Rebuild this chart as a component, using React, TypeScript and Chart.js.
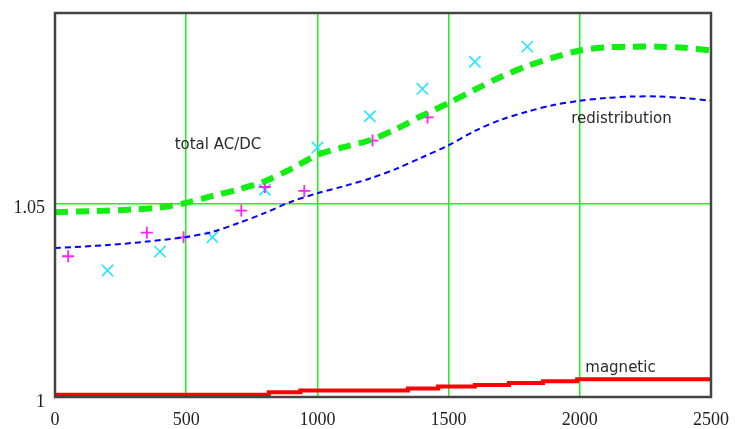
import React, { useEffect, useRef } from "react";
import { Chart, registerables } from "chart.js";

Chart.register(...registerables);

// ---- data ----
const totalX = [0, 150, 300, 400, 500, 600, 700, 800, 900, 1000, 1100, 1200, 1300, 1400, 1500, 1600, 1700, 1800, 1900, 2000, 2100, 2200, 2300, 2400, 2500];
const totalY = [1.0478, 1.0481, 1.0485, 1.049, 1.0502, 1.052, 1.0537, 1.0558, 1.059, 1.0626, 1.0646, 1.0664, 1.0693, 1.0728, 1.076, 1.0795, 1.0828, 1.0856, 1.0878, 1.0896, 1.0904, 1.0906, 1.0906, 1.0903, 1.0896];

const redistX = [0, 200, 350, 500, 600, 700, 800, 900, 1000, 1100, 1200, 1300, 1400, 1500, 1600, 1700, 1800, 1900, 2000, 2100, 2200, 2300, 2400, 2500];
const redistY = [1.0385, 1.0393, 1.0402, 1.0414, 1.0427, 1.045, 1.0476, 1.0505, 1.0527, 1.0545, 1.0565, 1.059, 1.062, 1.0651, 1.0688, 1.0717, 1.0738, 1.0755, 1.0766, 1.0773, 1.0777, 1.0777, 1.0773, 1.0766];

const magX = [0, 815, 935, 1345, 1460, 1600, 1730, 1860, 1990, 2500];
const magY = [1.0006, 1.0012, 1.0017, 1.0022, 1.0027, 1.0031, 1.0036, 1.0041, 1.0046, 1.0046];

const plusX = [50, 350, 490, 710, 800, 950, 1210, 1420];
const plusY = [1.0364, 1.0425, 1.0413, 1.0482, 1.0543, 1.0533, 1.0663, 1.0723];

const crossX = [200, 400, 600, 800, 1000, 1200, 1400, 1600, 1800];
const crossY = [1.0327, 1.0376, 1.0413, 1.0536, 1.0645, 1.0726, 1.0797, 1.0867, 1.0906];

const xTicks = [0, 500, 1000, 1500, 2000, 2500];
const yTicks = [1, 1.05];
const yTickLabels = ["1", "1.05"];

const labelTexts = ["total AC/DC", "redistribution", "magnetic"];
const labelX = [621, 2159, 2155];
const labelY = [1.0651, 1.0719, 1.0076];

const pts = (xs: number[], ys: number[]) => xs.map((x, i) => ({ x, y: ys[i] }));

export default function App() {
  const ref = useRef<HTMLCanvasElement>(null);

  useEffect(() => {
    const canvas = ref.current;
    if (!canvas) return;
    document.body.style.margin = "0";

    const framePlugin = {
      id: "frame",
      afterDatasetsDraw(chart: any) {
        const { ctx, scales } = chart;
        ctx.save();
        ctx.font = '15px "DejaVu Sans"';
        ctx.fillStyle = "#2a2a2a";
        ctx.textAlign = "center";
        ctx.textBaseline = "middle";
        labelTexts.forEach((t, i) => {
          ctx.fillText(t, scales.x.getPixelForValue(labelX[i]), scales.y.getPixelForValue(labelY[i]));
        });
        ctx.restore();
      },
      afterDraw(chart: any) {
        const { ctx, chartArea } = chart;
        ctx.save();
        ctx.strokeStyle = "#444";
        ctx.lineWidth = 2.5;
        ctx.strokeRect(chartArea.left, chartArea.top, chartArea.right - chartArea.left, chartArea.bottom - chartArea.top);
        ctx.restore();
      },
    };

    const chart = new Chart(canvas, {
      type: "line",
      data: {
        datasets: [
          {
            label: "magnetic",
            data: pts(magX, magY),
            borderColor: "#ff0000",
            borderWidth: 4,
            pointRadius: 0,
            stepped: true,
            fill: false,
          },
          {
            label: "redistribution",
            data: pts(redistX, redistY),
            borderColor: "#0000ff",
            borderWidth: 2,
            borderDash: [6, 4],
            pointRadius: 0,
            tension: 0.3,
            fill: false,
          },
          {
            label: "total AC/DC",
            data: pts(totalX, totalY),
            borderColor: "#11ee11",
            borderWidth: 6,
            borderDash: [13, 8],
            pointRadius: 0,
            tension: 0.3,
            fill: false,
          },
          {
            label: "plus",
            data: pts(plusX, plusY),
            showLine: false,
            pointStyle: "cross",
            pointRadius: 6,
            pointBorderWidth: 1.8,
            borderColor: "#ff22ff",
            backgroundColor: "#ff22ff",
          },
          {
            label: "cross",
            data: pts(crossX, crossY),
            showLine: false,
            pointStyle: "crossRot",
            pointRadius: 8,
            pointBorderWidth: 1.6,
            borderColor: "#22e6ff",
            backgroundColor: "#22e6ff",
          },
        ],
      },
      options: {
        responsive: false,
        animation: false,
        devicePixelRatio: 1,
        layout: { padding: { top: 13, right: 26, left: 0, bottom: 0 } },
        plugins: {
          legend: { display: false },
          tooltip: { enabled: false },
        },
        scales: {
          x: {
            type: "linear",
            min: 0,
            max: 2500,
            afterBuildTicks: (scale: any) => {
              scale.ticks = xTicks.map((v) => ({ value: v }));
            },
            afterFit: (scale: any) => {
              scale.height = 32;
            },
            border: { display: false },
            grid: {
              drawTicks: false,
              lineWidth: 1.5,
              color: (c: any) => (c.tick && (c.tick.value === 0 || c.tick.value === 2500) ? "rgba(0,0,0,0)" : "#22ee22"),
            },
            ticks: {
              padding: 12,
              maxRotation: 0,
              autoSkip: false,
              color: "#222",
              font: { family: '"Liberation Serif", serif', size: 18 },
              callback: (v: any) => String(v),
            },
          },
          y: {
            type: "linear",
            min: 1,
            max: 1.0993,
            afterBuildTicks: (scale: any) => {
              scale.ticks = yTicks.map((v) => ({ value: v }));
            },
            afterFit: (scale: any) => {
              scale.width = 55;
              scale.paddingTop = 0;
              scale.paddingBottom = 0;
            },
            border: { display: false },
            grid: {
              drawTicks: false,
              lineWidth: 1.5,
              color: "#22ee22",
            },
            ticks: {
              padding: 10,
              labelOffset: 5,
              color: "#222",
              font: { family: '"Liberation Serif", serif', size: 18 },
              callback: (_v: any, i: number) => yTickLabels[i],
            },
          },
        },
      },
      plugins: [framePlugin],
    } as any);

    return () => chart.destroy();
  }, []);

  return (
    <div style={{ position: "absolute", left: 0, top: 0, width: 741, height: 429, background: "#fff" }}>
      <canvas ref={ref} width={741} height={429} />
    </div>
  );
}
